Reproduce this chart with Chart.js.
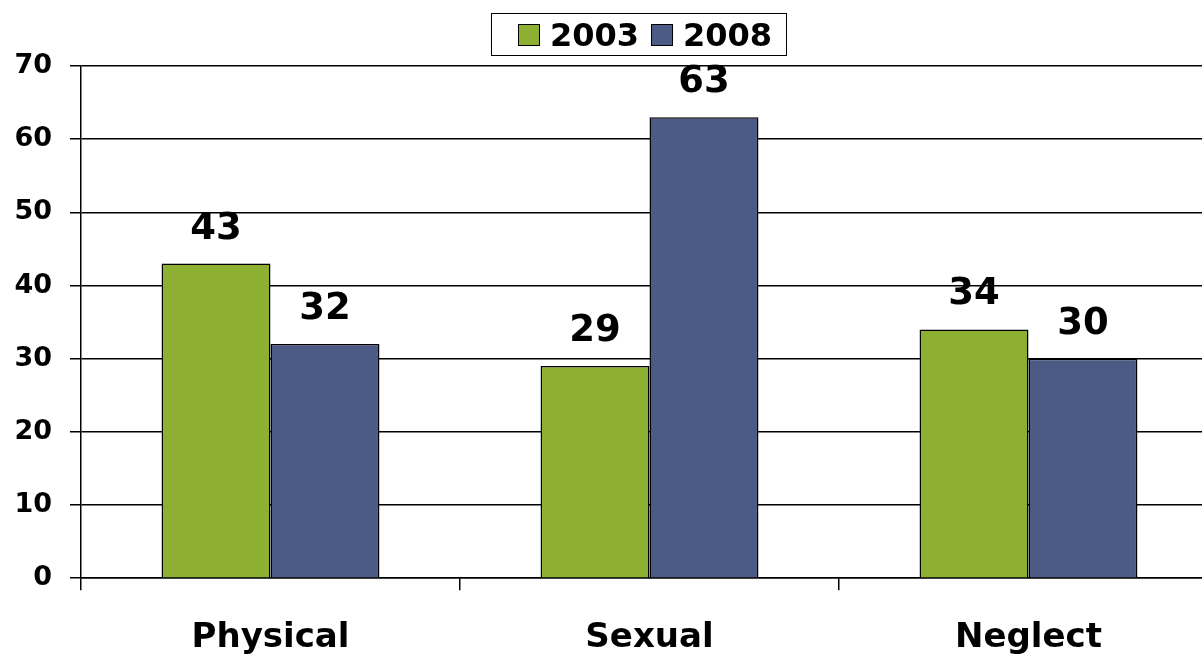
<!DOCTYPE html>
<html>
<head>
<meta charset="utf-8">
<script src="https://cdn.jsdelivr.net/npm/chart.js@4/dist/chart.umd.min.js"></script>
<style>
  html, body { margin: 0; padding: 0; background: #fff; overflow: hidden; }
  #wrap { position: relative; width: 1220px; height: 655px; overflow: hidden; }
  #legend {
    position: absolute; left: 491px; top: 13px; width: 296px; height: 43px;
    border: 1.5px solid #000; display: flex; align-items: center; justify-content: center;
    font: bold 32px "DejaVu Sans", sans-serif; color: #000; box-sizing: border-box;
  }
  #legend span.box { display: inline-block; width: 22px; height: 22px; border: 1px solid #000; margin: 0 10px 0 12px; box-sizing: border-box; }
</style>
</head>
<body>
<div id="wrap">
  <canvas id="chart" width="1220" height="687"></canvas>
  <div id="legend"></div>
</div>
<script>
const categories = ['Physical', 'Sexual', 'Neglect'];
const seriesNames = ['2003', '2008'];
const values2003 = [43, 29, 34];
const values2008 = [32, 63, 30];
const colors = ['#8DB032', '#4C5B86'];

const canvas = document.getElementById('chart');
const ctx = canvas.getContext('2d');

// draws the value above each bar
const valueLabels = {
  id: 'valueLabels',
  afterDatasetsDraw(chart) {
    const c = chart.ctx;
    c.save();
    c.font = 'bold 37px "DejaVu Sans", sans-serif';
    c.fillStyle = '#000';
    c.textAlign = 'center';
    c.textBaseline = 'alphabetic';
    chart.data.datasets.forEach((ds, i) => {
      chart.getDatasetMeta(i).data.forEach((bar, j) => {
        c.fillText(String(ds.data[j]), bar.x, bar.y - 25);
      });
    });
    c.restore();
  }
};

const chart = new Chart(ctx, {
  type: 'bar',
  data: {
    labels: categories,
    datasets: [
      { label: seriesNames[0], data: values2003, backgroundColor: colors[0], borderColor: '#000', borderWidth: 1.5 },
      { label: seriesNames[1], data: values2008, backgroundColor: colors[1], borderColor: '#000', borderWidth: 1.5 }
    ]
  },
  options: {
    responsive: false,
    animation: false,
    layout: { padding: { top: 66, right: 2, left: 0, bottom: 0 } },
    datasets: { bar: { categoryPercentage: 0.575, barPercentage: 1 } },
    plugins: { legend: { display: false }, tooltip: { enabled: false } },
    scales: {
      x: {
        grid: { offset: true, drawOnChartArea: false, drawTicks: true, tickLength: 12, color: '#000', lineWidth: 1.5 },
        border: { color: '#000', width: 1.5 },
        ticks: { color: '#000', font: { family: 'DejaVu Sans', size: 34, weight: 'bold' }, padding: 28 }
      },
      y: {
        min: 0, max: 70,
        afterFit: scale => { scale.width = 81; },
        grid: { color: '#000', lineWidth: 1.5, tickLength: 11 },
        border: { color: '#000', width: 1.5 },
        ticks: { stepSize: 10, color: '#000', font: { family: 'DejaVu Sans', size: 27, weight: 'bold' }, padding: 18 }
      }
    }
  },
  plugins: [valueLabels]
});

// legend box built from the dataset names and colours
const legend = document.getElementById('legend');
chart.data.datasets.forEach(ds => {
  const box = document.createElement('span');
  box.className = 'box';
  box.style.background = ds.backgroundColor;
  legend.appendChild(box);
  legend.appendChild(document.createTextNode(ds.label));
});
</script>
</body>
</html>
